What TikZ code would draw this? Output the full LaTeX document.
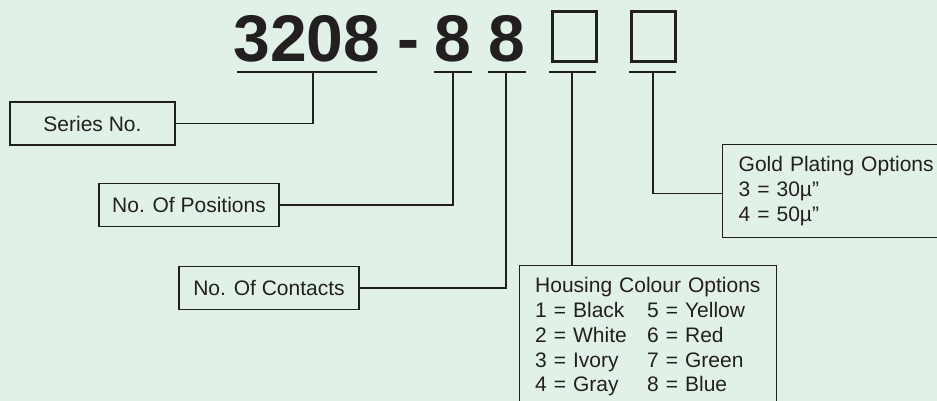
\documentclass[tikz,border=0pt]{standalone}
\usepackage{fontspec}
\setmainfont{Liberation Sans}
\usepackage{xcolor}
\usepackage{tikz}
\definecolor{bgmint}{RGB}{225,241,231}
\definecolor{ink}{RGB}{35,31,32}

\begin{document}
\begin{tikzpicture}[
    x=1pt, y=-1pt,
    every node/.style={text=ink},
    digit/.style={font=\fontsize{66}{66}\selectfont\bfseries, inner sep=0pt, anchor=base},
    slot/.style={rectangle, draw=ink, line width=3pt, minimum width=44pt, minimum height=50pt, inner sep=0pt},
    uline/.style={draw=ink, line width=1.4pt},
    tagbox/.style={rectangle, draw=ink, line width=1.4pt, font=\fontsize{21}{25}\selectfont, minimum height=43pt, inner sep=0pt},
    optbox/.style={rectangle, draw=ink, line width=1.4pt, font=\fontsize{21}{24.7}\selectfont, align=left, anchor=north west, inner xsep=16pt, inner ysep=12pt},
    link/.style={draw=ink, line width=1.4pt}
]

\useasboundingbox (0,0) rectangle (937,401);
\clip (0,0) rectangle (937,401);
\fill[bgmint] (0,0) rectangle (937,401);

\node[digit] (series) at (307,62) {3208};
\node[digit] (dash) at (408,62) {-};
\node[digit] (positions) at (453,62) {8};
\node[digit] (contacts) at (507,62) {8};
\node[slot] (colour) at (574.5,36.5) {};
\node[slot] (plating) at (653.5,36.5) {};

\draw[uline] (237,72) -- (377,72);
\draw[uline] (434,72) -- (472,72);
\draw[uline] (488,72) -- (526,72);
\draw[uline] (549,72) -- (596,72);
\draw[uline] (629,72) -- (676,72);

\coordinate (useries) at (313,72);
\coordinate (upositions) at (453,72);
\coordinate (ucontacts) at (506,72);
\coordinate (ucolour) at (572,72);
\coordinate (uplating) at (653,72);

\node[tagbox, minimum width=165pt] (seriesbox) at (92.5,123.5) {Series No.};
\node[tagbox, minimum width=180pt] (positionsbox) at (189,205) {No. Of Positions};
\node[tagbox, minimum width=180pt] (contactsbox) at (269,288) {No. Of Contacts};

\node[optbox, text width=200pt] (platingbox) at (722,144) {Gold Plating Options\\
3 = 30µ”\\
4 = 50µ”};
\node[optbox, text width=226pt, inner xsep=15.5pt] (colourbox) at (519,265) {Housing Colour Options\\
\makebox[112pt][l]{1 = Black}5 = Yellow\\
\makebox[112pt][l]{2 = White}6 = Red\\
\makebox[112pt][l]{3 = Ivory}7 = Green\\
\makebox[112pt][l]{4 = Gray}8 = Blue\\
\strut};

\draw[link] (useries) |- (seriesbox);
\draw[link] (upositions) |- (positionsbox);
\draw[link] (ucontacts) |- (contactsbox);
\draw[link] (ucolour) -- (ucolour |- colourbox.north);
\draw[link] (uplating) |- ([yshift=-2.5pt]platingbox.west);

\end{tikzpicture}
\end{document}
